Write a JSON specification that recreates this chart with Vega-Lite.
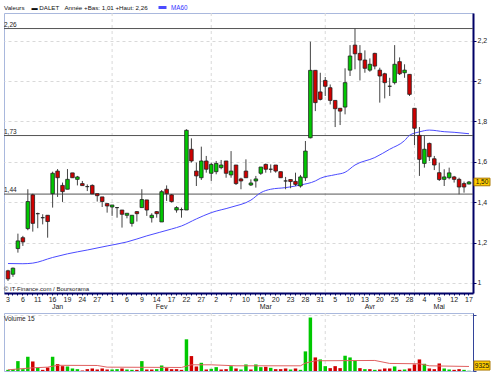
{
"$schema":"https://vega.github.io/schema/vega-lite/v6.json",
"padding":{"left":3,"top":1,"right":0,"bottom":0},
"background":"white",
"bounds":"flush",
"spacing":20,
"resolve":{"scale":{"color":"independent"},"legend":{"color":"independent"}},
"config":{
 "locale":{"number":{"decimal":",","thousands":" ","grouping":[3],"currency":["","€"]}},
 "font":"Liberation Sans",
 "view":{"stroke":"#a9b8dd"},
 "axis":{"labelFont":"Liberation Sans","labelFontSize":7,"labelColor":"#222222"}
},
"datasets":{
 "months":[{"d":"2006-02-01"},{"d":"2006-03-01"},{"d":"2006-04-03"},{"d":"2006-05-02"}],
 "refs":[{"p":2.26},{"p":1.73},{"p":1.44}],
 "px":[
{"d":"2006-01-03","o":1.06,"h":1.065,"l":1.01,"c":1.02,"v":42000,"vd":"+"},
{"d":"2006-01-04","o":1.043,"h":1.076,"l":1.03,"c":1.073,"v":66000,"vd":"+"},
{"d":"2006-01-05","o":1.17,"h":1.244,"l":1.15,"c":1.208,"v":356000,"vd":"+"},
{"d":"2006-01-06","o":1.224,"h":1.233,"l":1.183,"c":1.203,"v":66000,"vd":"+"},
{"d":"2006-01-09","o":1.269,"h":1.464,"l":1.261,"c":1.403,"v":513000,"vd":"+"},
{"d":"2006-01-10","o":1.436,"h":1.442,"l":1.254,"c":1.295,"v":344000,"vd":"-"},
{"d":"2006-01-11","o":1.343,"h":1.348,"l":1.271,"c":1.343,"v":127000,"vd":"+"},
{"d":"2006-01-12","o":1.323,"h":1.34,"l":1.29,"c":1.323,"v":42000,"vd":"-"},
{"d":"2006-01-13","o":1.335,"h":1.335,"l":1.224,"c":1.304,"v":127000,"vd":"-"},
{"d":"2006-01-16","o":1.442,"h":1.551,"l":1.373,"c":1.543,"v":513000,"vd":"+"},
{"d":"2006-01-17","o":1.554,"h":1.564,"l":1.426,"c":1.521,"v":248000,"vd":"-"},
{"d":"2006-01-18","o":1.483,"h":1.497,"l":1.401,"c":1.452,"v":175000,"vd":"-"},
{"d":"2006-01-19","o":1.464,"h":1.564,"l":1.464,"c":1.513,"v":163000,"vd":"+"},
{"d":"2006-01-20","o":1.545,"h":1.545,"l":1.521,"c":1.521,"v":91000,"vd":"+"},
{"d":"2006-01-23","o":1.513,"h":1.53,"l":1.483,"c":1.525,"v":66000,"vd":"+"},
{"d":"2006-01-24","o":1.492,"h":1.505,"l":1.482,"c":1.482,"v":18000,"vd":"-"},
{"d":"2006-01-25","o":1.477,"h":1.488,"l":1.455,"c":1.477,"v":66000,"vd":"-"},
{"d":"2006-01-26","o":1.483,"h":1.488,"l":1.44,"c":1.441,"v":91000,"vd":"-"},
{"d":"2006-01-27","o":1.442,"h":1.442,"l":1.403,"c":1.432,"v":54000,"vd":"-"},
{"d":"2006-01-30","o":1.426,"h":1.426,"l":1.376,"c":1.403,"v":91000,"vd":"-"},
{"d":"2006-01-31","o":1.393,"h":1.393,"l":1.348,"c":1.381,"v":54000,"vd":"-"},
{"d":"2006-02-01","o":1.376,"h":1.386,"l":1.332,"c":1.386,"v":54000,"vd":"+"},
{"d":"2006-02-02","o":1.373,"h":1.376,"l":1.323,"c":1.373,"v":66000,"vd":"+"},
{"d":"2006-02-03","o":1.361,"h":1.361,"l":1.274,"c":1.34,"v":91000,"vd":"-"},
{"d":"2006-02-06","o":1.335,"h":1.345,"l":1.32,"c":1.345,"v":54000,"vd":"+"},
{"d":"2006-02-07","o":1.295,"h":1.335,"l":1.279,"c":1.335,"v":42000,"vd":"+"},
{"d":"2006-02-08","o":1.353,"h":1.356,"l":1.304,"c":1.343,"v":42000,"vd":"-"},
{"d":"2006-02-09","o":1.373,"h":1.464,"l":1.373,"c":1.413,"v":356000,"vd":"+"},
{"d":"2006-02-10","o":1.411,"h":1.411,"l":1.332,"c":1.361,"v":54000,"vd":"-"},
{"d":"2006-02-13","o":1.323,"h":1.345,"l":1.299,"c":1.335,"v":54000,"vd":"-"},
{"d":"2006-02-14","o":1.353,"h":1.356,"l":1.323,"c":1.343,"v":66000,"vd":"+"},
{"d":"2006-02-15","o":1.302,"h":1.46,"l":1.302,"c":1.452,"v":199000,"vd":"+"},
{"d":"2006-02-16","o":1.464,"h":1.483,"l":1.406,"c":1.442,"v":103000,"vd":"-"},
{"d":"2006-02-17","o":1.436,"h":1.44,"l":1.398,"c":1.403,"v":66000,"vd":"-"},
{"d":"2006-02-20","o":1.361,"h":1.38,"l":1.348,"c":1.373,"v":66000,"vd":"-"},
{"d":"2006-02-21","o":1.363,"h":1.373,"l":1.323,"c":1.363,"v":42000,"vd":"-"},
{"d":"2006-02-22","o":1.361,"h":1.761,"l":1.361,"c":1.756,"v":1142000,"vd":"+"},
{"d":"2006-02-23","o":1.662,"h":1.716,"l":1.596,"c":1.604,"v":538000,"vd":"-"},
{"d":"2006-02-24","o":1.554,"h":1.596,"l":1.48,"c":1.53,"v":163000,"vd":"-"},
{"d":"2006-02-27","o":1.521,"h":1.675,"l":1.51,"c":1.604,"v":296000,"vd":"+"},
{"d":"2006-02-28","o":1.604,"h":1.629,"l":1.546,"c":1.563,"v":54000,"vd":"-"},
{"d":"2006-03-01","o":1.543,"h":1.596,"l":1.505,"c":1.587,"v":79000,"vd":"+"},
{"d":"2006-03-02","o":1.551,"h":1.604,"l":1.538,"c":1.592,"v":139000,"vd":"+"},
{"d":"2006-03-03","o":1.571,"h":1.609,"l":1.563,"c":1.584,"v":54000,"vd":"-"},
{"d":"2006-03-06","o":1.604,"h":1.604,"l":1.521,"c":1.543,"v":66000,"vd":"-"},
{"d":"2006-03-07","o":1.535,"h":1.653,"l":1.521,"c":1.554,"v":175000,"vd":"+"},
{"d":"2006-03-08","o":1.584,"h":1.584,"l":1.485,"c":1.492,"v":91000,"vd":"-"},
{"d":"2006-03-09","o":1.515,"h":1.521,"l":1.464,"c":1.505,"v":54000,"vd":"+"},
{"d":"2006-03-10","o":1.554,"h":1.612,"l":1.521,"c":1.521,"v":236000,"vd":"+"},
{"d":"2006-03-13","o":1.485,"h":1.513,"l":1.48,"c":1.495,"v":54000,"vd":"-"},
{"d":"2006-03-14","o":1.505,"h":1.53,"l":1.472,"c":1.515,"v":236000,"vd":"+"},
{"d":"2006-03-15","o":1.543,"h":1.574,"l":1.535,"c":1.574,"v":139000,"vd":"+"},
{"d":"2006-03-16","o":1.587,"h":1.591,"l":1.546,"c":1.563,"v":151000,"vd":"-"},
{"d":"2006-03-17","o":1.563,"h":1.587,"l":1.546,"c":1.563,"v":115000,"vd":"+"},
{"d":"2006-03-20","o":1.584,"h":1.584,"l":1.546,"c":1.554,"v":66000,"vd":"-"},
{"d":"2006-03-21","o":1.551,"h":1.551,"l":1.521,"c":1.521,"v":66000,"vd":"-"},
{"d":"2006-03-22","o":1.505,"h":1.525,"l":1.464,"c":1.505,"v":91000,"vd":"-"},
{"d":"2006-03-23","o":1.512,"h":1.512,"l":1.469,"c":1.502,"v":54000,"vd":"+"},
{"d":"2006-03-24","o":1.503,"h":1.546,"l":1.48,"c":1.488,"v":91000,"vd":"-"},
{"d":"2006-03-27","o":1.48,"h":1.535,"l":1.472,"c":1.525,"v":42000,"vd":"+"},
{"d":"2006-03-28","o":1.521,"h":1.703,"l":1.505,"c":1.653,"v":707000,"vd":"+"},
{"d":"2006-03-29","o":1.719,"h":2.195,"l":1.716,"c":2.053,"v":1927000,"vd":"+"},
{"d":"2006-03-30","o":2.053,"h":2.053,"l":1.851,"c":1.893,"v":489000,"vd":"-"},
{"d":"2006-03-31","o":1.946,"h":2.041,"l":1.904,"c":1.909,"v":417000,"vd":"+"},
{"d":"2006-04-03","o":2.003,"h":2.02,"l":1.926,"c":1.974,"v":175000,"vd":"+"},
{"d":"2006-04-04","o":1.967,"h":1.983,"l":1.884,"c":1.904,"v":103000,"vd":"-"},
{"d":"2006-04-05","o":1.904,"h":1.904,"l":1.772,"c":1.863,"v":175000,"vd":"-"},
{"d":"2006-04-06","o":1.865,"h":1.865,"l":1.782,"c":1.851,"v":103000,"vd":"-"},
{"d":"2006-04-07","o":1.871,"h":2.063,"l":1.835,"c":1.992,"v":550000,"vd":"+"},
{"d":"2006-04-10","o":2.054,"h":2.178,"l":2.025,"c":2.124,"v":489000,"vd":"+"},
{"d":"2006-04-11","o":2.178,"h":2.26,"l":2.058,"c":2.135,"v":380000,"vd":"+"},
{"d":"2006-04-12","o":2.137,"h":2.178,"l":2.003,"c":2.104,"v":103000,"vd":"-"},
{"d":"2006-04-13","o":2.104,"h":2.152,"l":2.041,"c":2.063,"v":66000,"vd":"+"},
{"d":"2006-04-18","o":2.054,"h":2.112,"l":2.046,"c":2.083,"v":66000,"vd":"-"},
{"d":"2006-04-19","o":2.137,"h":2.14,"l":2.058,"c":2.074,"v":42000,"vd":"+"},
{"d":"2006-04-20","o":2.054,"h":2.066,"l":1.893,"c":2.025,"v":54000,"vd":"-"},
{"d":"2006-04-21","o":2.036,"h":2.041,"l":1.914,"c":1.992,"v":91000,"vd":"-"},
{"d":"2006-04-24","o":1.974,"h":2.016,"l":1.926,"c":1.974,"v":91000,"vd":"-"},
{"d":"2006-04-25","o":1.992,"h":2.178,"l":1.983,"c":2.083,"v":163000,"vd":"+"},
{"d":"2006-04-26","o":2.096,"h":2.117,"l":2.03,"c":2.036,"v":42000,"vd":"-"},
{"d":"2006-04-27","o":2.041,"h":2.083,"l":2.016,"c":2.054,"v":54000,"vd":"+"},
{"d":"2006-04-28","o":2.033,"h":2.033,"l":1.926,"c":1.934,"v":91000,"vd":"-"},
{"d":"2006-05-02","o":1.865,"h":1.865,"l":1.683,"c":1.766,"v":236000,"vd":"-"},
{"d":"2006-05-03","o":1.731,"h":1.772,"l":1.53,"c":1.612,"v":417000,"vd":"-"},
{"d":"2006-05-04","o":1.592,"h":1.728,"l":1.571,"c":1.662,"v":260000,"vd":"+"},
{"d":"2006-05-05","o":1.691,"h":1.695,"l":1.604,"c":1.625,"v":91000,"vd":"-"},
{"d":"2006-05-08","o":1.615,"h":1.629,"l":1.559,"c":1.584,"v":66000,"vd":"-"},
{"d":"2006-05-09","o":1.546,"h":1.596,"l":1.505,"c":1.512,"v":272000,"vd":"-"},
{"d":"2006-05-10","o":1.513,"h":1.563,"l":1.48,"c":1.525,"v":91000,"vd":"+"},
{"d":"2006-05-11","o":1.521,"h":1.571,"l":1.513,"c":1.545,"v":54000,"vd":"+"},
{"d":"2006-05-12","o":1.525,"h":1.53,"l":1.497,"c":1.513,"v":42000,"vd":"-"},
{"d":"2006-05-15","o":1.513,"h":1.521,"l":1.439,"c":1.475,"v":66000,"vd":"-"},
{"d":"2006-05-16","o":1.492,"h":1.502,"l":1.447,"c":1.475,"v":42000,"vd":"+"},
{"d":"2006-05-17","o":1.49,"h":1.505,"l":1.488,"c":1.5,"v":9325,"vd":"+"}
 ],
 "ma":[
{"d":"2006-01-03","m":1.096},{"d":"2006-01-06","m":1.095},{"d":"2006-01-10","m":1.098},{"d":"2006-01-16","m":1.126},{"d":"2006-01-19","m":1.144},{"d":"2006-01-25","m":1.163},{"d":"2006-01-31","m":1.183},{"d":"2006-02-06","m":1.203},{"d":"2006-02-10","m":1.233},{"d":"2006-02-17","m":1.267},{"d":"2006-02-21","m":1.282},{"d":"2006-02-24","m":1.317},{"d":"2006-03-01","m":1.348},{"d":"2006-03-07","m":1.375},{"d":"2006-03-13","m":1.41},{"d":"2006-03-15","m":1.447},{"d":"2006-03-17","m":1.464},{"d":"2006-03-22","m":1.472},{"d":"2006-03-27","m":1.485},{"d":"2006-03-30","m":1.505},{"d":"2006-03-31","m":1.518},{"d":"2006-04-05","m":1.536},{"d":"2006-04-07","m":1.548},{"d":"2006-04-11","m":1.584},{"d":"2006-04-19","m":1.621},{"d":"2006-04-24","m":1.662},{"d":"2006-04-27","m":1.705},{"d":"2006-04-28","m":1.731},{"d":"2006-05-03","m":1.748},{"d":"2006-05-05","m":1.757},{"d":"2006-05-10","m":1.749},{"d":"2006-05-12","m":1.746},{"d":"2006-05-17","m":1.739}
 ],
 "vma":[
{"d":"2006-01-03","m":42000},{"d":"2006-01-10","m":115000},{"d":"2006-01-13","m":139000},{"d":"2006-01-17","m":205000},{"d":"2006-01-27","m":199000},{"d":"2006-01-31","m":139000},{"d":"2006-02-21","m":127000},{"d":"2006-02-23","m":223000},{"d":"2006-03-01","m":223000},{"d":"2006-03-08","m":187000},{"d":"2006-03-27","m":187000},{"d":"2006-03-28","m":284000},{"d":"2006-03-30","m":368000},{"d":"2006-04-19","m":380000},{"d":"2006-04-24","m":272000},{"d":"2006-05-03","m":260000},{"d":"2006-05-05","m":187000},{"d":"2006-05-17","m":163000}
 ]
},
"vconcat":[
 {
  "width":469,"height":280,
  "resolve":{"scale":{"x":"shared"},"axis":{"x":"independent"}},
  "layer":[
   {"data":{"name":"months"},"mark":{"type":"rule","color":"#d9d9d9","strokeDash":[3,3]},
    "encoding":{"x":{"field":"d","type":"ordinal","scale":{"paddingInner":0,"paddingOuter":0.307},
      "axis":{"orient":"bottom","title":null,"values":["2006-01-17","2006-02-15","2006-03-16","2006-04-18","2006-05-09"],"labelExpr":"['Jan','Fev','Mar','Avr','Mai'][toNumber(substring(datum.value,5,7))-1]","ticks":false,"domain":false,"grid":false,"labelPadding":9,"labelAngle":0,"labelOverlap":false,"labelFontSize":7}}}},
   {"data":{"name":"refs"},"mark":{"type":"rule","color":"#555555","strokeWidth":1},
    "encoding":{"y":{"field":"p","type":"quantitative","title":null}}},
   {"data":{"name":"refs"},"mark":{"type":"text","align":"left","baseline":"bottom","dx":-4,"dy":-1,"fontSize":6.5,"color":"#222222"},
    "encoding":{"x":{"datum":"2006-01-03","type":"ordinal","axis":null},"y":{"field":"p","type":"quantitative","title":null},"text":{"field":"p","type":"quantitative","format":".2f"}}},
   {"data":{"name":"ma"},"mark":{"type":"line","strokeWidth":1,"interpolate":"monotone"},
    "encoding":{"x":{"field":"d","type":"ordinal","axis":null},"y":{"field":"m","type":"quantitative","title":null},
     "color":{"datum":"MA60","scale":{"domain":["MA60"],"range":["#4b4bff"]},
      "legend":{"orient":"none","legendX":0,"legendY":-11,"title":"Valeurs\u00a0\u00a0\u00a0\u00a0▬ DALET\u00a0\u00a0\u00a0Année +Bas: 1,01 +Haut: 2,26","titleOrient":"left","titleFontSize":6.2,"titleFontWeight":"normal","titleFont":"Liberation Sans","titleColor":"#111111","titlePadding":9,"titleBaseline":"middle","titleAnchor":"middle","symbolType":"stroke","symbolSize":64,"symbolStrokeWidth":3,"labelFontSize":6.3,"labelColor":"#3333ff","labelFont":"Liberation Sans","labelOffset":3,"padding":0}}}},
   {"data":{"name":"px"},"mark":{"type":"rule","color":"#444444","strokeWidth":1},
    "encoding":{"x":{"field":"d","type":"ordinal","scale":{"paddingInner":0,"paddingOuter":0.307},
      "axis":{"orient":"bottom","title":null,"domainColor":"#000066","domainWidth":2,"tickColor":"#000066","tickSize":2,"labelPadding":0,"labelAngle":0,"labelOverlap":false,"labelBound":false,"labelFlush":false,"grid":false,"labelExpr":"round(datum.index*93) % 3 == 0 ? '' + toNumber(substring(datum.value,8,10)) : ''"}},
     "y":{"field":"l","type":"quantitative","title":null,"scale":{"domain":[0.95,2.337],"nice":false,"zero":false},
      "axis":{"orient":"right","values":[1.0,1.1,1.2,1.3,1.4,1.5,1.6,1.7,1.8,1.9,2.0,2.1,2.2,2.3],"format":".1~f","labelExpr":"round(datum.value*10) % 2 == 0 ? datum.label : ''","domainColor":"#000066","domainWidth":2,"tickColor":"#000066","tickSize":3,"labelPadding":1,"grid":true,"gridColor":"#d9d9d9","gridDash":[3,3],"gridOpacity":{"condition":{"test":"round(datum.value*10) % 2 == 0","value":1},"value":0},"labelOverlap":false,"labelBound":false,"labelFlush":false}},
     "y2":{"field":"h"}}},
   {"data":{"name":"px"},"mark":{"type":"bar","width":{"band":0.72},"stroke":"#222222","strokeWidth":0.8},
    "encoding":{"x":{"field":"d","type":"ordinal","axis":null},"y":{"field":"o","type":"quantitative","title":null},"y2":{"field":"c"},
     "color":{"condition":{"test":"datum.c >= datum.o","value":"#00c800"},"value":"#d00000"}}},
   {"data":{"values":[{"t":"© IT-Finance.com / Boursorama"}]},"mark":{"type":"text","align":"left","baseline":"middle","dx":-4,"fontSize":6,"color":"#222222"},
    "encoding":{"x":{"datum":"2006-01-03","type":"ordinal","axis":null},"y":{"datum":0.968,"type":"quantitative"},"text":{"field":"t"}}},
   {"data":{"name":"px"},"transform":[{"filter":"datum.d == '2006-05-17'"}],"mark":{"type":"point","shape":"M0.5,-0.38H2.1V0.38H0.5Z","size":400,"filled":true,"fill":"#ffcc00","stroke":"#aa7700","strokeWidth":1,"opacity":1,"clip":false},
    "encoding":{"x":{"field":"d","type":"ordinal","axis":null},"y":{"field":"c","type":"quantitative","title":null}}},
   {"data":{"name":"px"},"transform":[{"filter":"datum.d == '2006-05-17'"}],"mark":{"type":"text","dx":13,"align":"center","baseline":"middle","fontSize":6.5,"color":"#111111"},
    "encoding":{"x":{"field":"d","type":"ordinal","axis":null},"y":{"field":"c","type":"quantitative","title":null},"text":{"field":"c","type":"quantitative","format":".2f"}}}
  ]
 },
 {
  "width":469,"height":58,
  "layer":[
   {"data":{"name":"months"},"mark":{"type":"rule","color":"#d9d9d9","strokeDash":[3,3]},
    "encoding":{"x":{"field":"d","type":"ordinal","scale":{"paddingInner":0,"paddingOuter":0.307},"axis":null}}},
   {"data":{"name":"px"},"mark":{"type":"bar","width":{"band":0.7}},
    "encoding":{"x":{"field":"d","type":"ordinal","scale":{"paddingInner":0,"paddingOuter":0.307},"axis":null},
     "y":{"field":"v","type":"quantitative","title":null,"scale":{"domain":[0,2090000],"nice":false},
      "axis":{"orient":"right","values":[0,250000,500000,750000,1000000,1250000,1500000,1750000,2000000],"labelExpr":"datum.value >= 500000 && datum.value <= 1500000 && datum.value % 500000 == 0 ? (datum.value/1000) + 'K' : ''","domainColor":"#334499","domainWidth":1,"tickColor":"#334499","tickSize":3,"labelPadding":1,"grid":true,"gridColor":"#d9d9d9","gridDash":[3,3],"gridOpacity":{"condition":{"test":"datum.value % 500000 == 0 && datum.value > 0","value":1},"value":0},"labelOverlap":false,"labelBound":false,"labelFlush":false}},
     "color":{"condition":{"test":"datum.vd == '+'","value":"#00c800"},"value":"#d00000"}}},
   {"data":{"name":"vma"},"mark":{"type":"line","color":"#e06060","strokeWidth":1},
    "encoding":{"x":{"field":"d","type":"ordinal"},"y":{"field":"m","type":"quantitative","title":null}}},
   {"data":{"values":[{"t":"Volume 15"}]},"mark":{"type":"text","align":"left","baseline":"middle","dx":-4,"fontSize":6.5,"color":"#222222"},
    "encoding":{"x":{"datum":"2006-01-03","type":"ordinal"},"y":{"datum":1860000,"type":"quantitative"},"text":{"field":"t"}}},
   {"data":{"name":"px"},"transform":[{"filter":"datum.d == '2006-05-17'"}],"mark":{"type":"point","shape":"M0.5,-0.97H2.1V-0.07H0.5Z","size":400,"filled":true,"fill":"#ffcc00","stroke":"#aa7700","strokeWidth":1,"opacity":1,"clip":false},
    "encoding":{"x":{"field":"d","type":"ordinal"},"y":{"field":"v","type":"quantitative","title":null}}},
   {"data":{"name":"px"},"transform":[{"filter":"datum.d == '2006-05-17'"}],"mark":{"type":"text","dx":13,"dy":-5,"align":"center","baseline":"middle","fontSize":6.5,"color":"#111111"},
    "encoding":{"x":{"field":"d","type":"ordinal"},"y":{"field":"v","type":"quantitative","title":null},"text":{"field":"v","type":"quantitative","format":"d"}}}
  ]
 }
]
}
